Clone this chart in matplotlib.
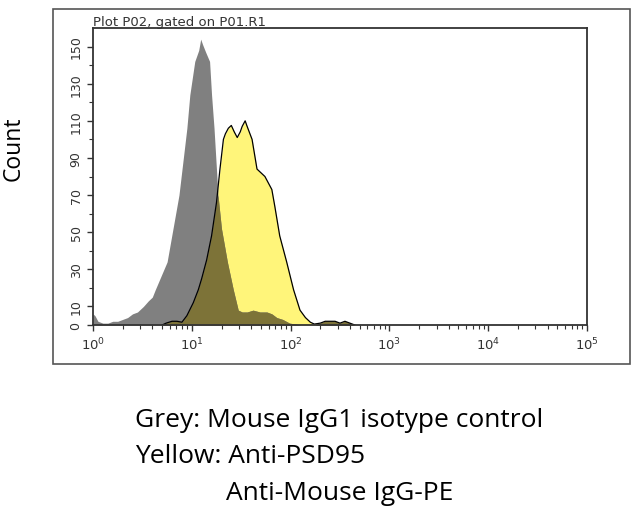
import matplotlib.pyplot as plt
import numpy as np
from matplotlib.patches import Rectangle
from matplotlib.ticker import FixedLocator, LogLocator, NullFormatter

# histogram outlines, x given as log10 of fluorescence intensity
grey_log = np.array([0.00, 0.02, 0.05, 0.10, 0.15, 0.20, 0.25, 0.30, 0.35, 0.40,
                     0.45, 0.51, 0.56, 0.60, 0.63, 0.67, 0.71, 0.75, 0.78, 0.81,
                     0.84, 0.87, 0.91, 0.95, 0.98, 1.03, 1.07, 1.09, 1.11, 1.14,
                     1.18, 1.20, 1.225, 1.245, 1.265, 1.30, 1.36, 1.42, 1.47, 1.51,
                     1.56, 1.62, 1.69, 1.76, 1.81, 1.86, 1.92, 1.99, 2.05, 2.10,
                     2.25, 2.30, 2.35, 2.40, 2.45, 2.50, 2.55, 2.60, 2.65])
grey_count = np.array([6, 5, 2, 1, 1, 2, 2, 3, 4, 6,
                       7, 10, 13, 15, 19, 24, 29, 34, 43, 52,
                       61, 70, 88, 106, 124, 142, 148, 154, 151, 147,
                       142, 124, 106, 88, 70, 52, 34, 19, 8, 7,
                       7, 8, 7, 7, 6, 4, 3, 1, 0.5, 0,
                       0, 1, 2, 2, 2, 1, 2, 1, 0])

yellow_log = np.array([0.70, 0.74, 0.80, 0.85, 0.90, 0.95, 1.015, 1.066, 1.10, 1.15,
                       1.20, 1.25, 1.285, 1.32, 1.34, 1.37, 1.40, 1.43, 1.46, 1.49,
                       1.51, 1.54, 1.56, 1.61, 1.66, 1.70, 1.74, 1.81, 1.84, 1.89,
                       1.96, 2.03, 2.095, 2.15, 2.20, 2.24, 2.30, 2.35, 2.40, 2.45,
                       2.50, 2.55, 2.60, 2.65])
yellow_count = np.array([0, 1, 2, 2, 1.5, 5, 12, 19, 25, 35,
                         48, 66, 84, 100, 103, 106, 107.5, 104, 101, 104,
                         107, 110, 107, 100, 84, 82, 80, 73, 64, 48,
                         34, 19, 8, 4, 1.5, 0.5, 1, 2, 2, 2,
                         1, 2, 1, 0])

y_labels = [0, 10, 30, 50, 70, 90, 110, 130, 150]

fig = plt.figure(figsize=(6.4, 5.1), dpi=100)
fig.patches.append(Rectangle((53 / 640, 1 - 365 / 510), 577 / 640, 355 / 510,
                             transform=fig.transFigure, fill=False,
                             edgecolor='#555555', linewidth=1.2))

ax = fig.add_axes([93 / 640, 1 - 326 / 510, 494 / 640, 297 / 510])

gx = 10 ** grey_log
yx = 10 ** yellow_log
ax.fill_between(yx, 0, yellow_count, color='#fff57a', linewidth=0)
ax.fill_between(gx, 0, grey_count, color='#808080', linewidth=0)
# where the two overlap the colours multiply -> olive
common = np.union1d(grey_log, yellow_log)
ov = np.minimum(np.interp(common, grey_log, grey_count, left=0, right=0),
                np.interp(common, yellow_log, yellow_count, left=0, right=0))
ax.fill_between(10 ** common, 0, ov, color='#7d7338', linewidth=0)
ax.plot(yx, yellow_count, color='black', linewidth=0.9)

ax.set_xscale('log')
ax.set_xlim(1, 1e5)
ax.set_ylim(0, 160)
ax.xaxis.set_major_locator(LogLocator(base=10, numticks=10))
ax.xaxis.set_minor_locator(LogLocator(base=10, subs=np.arange(2, 10), numticks=20))
ax.xaxis.set_minor_formatter(NullFormatter())
ax.yaxis.set_major_locator(FixedLocator(y_labels))
ax.yaxis.set_minor_locator(FixedLocator(np.arange(0, 160, 10)))
ax.tick_params(axis='both', which='major', direction='out', length=4, width=1,
               labelsize=9, colors='#333333')
ax.tick_params(axis='x', which='major', labelsize=9.5)
ax.tick_params(axis='both', which='minor', direction='out', length=3, width=0.8,
               colors='#333333')
for lab in ax.get_yticklabels():
    lab.set_rotation(90)
    lab.set_va('center')
for s in ax.spines.values():
    s.set_color('#333333')
    s.set_linewidth(1.3)

ax.set_title('Plot P02, gated on P01.R1', loc='left', fontsize=9.5,
             color='#333333', pad=1)

fig.text(14 / 640, 1 - 149 / 510, 'Count', rotation=90, ha='center',
         va='center', fontsize=16.5, family='Open Sans')
fig.text(135 / 640, 1 - 427 / 510, 'Grey: Mouse IgG1 isotype control',
         fontsize=19, family='Open Sans', va='baseline')
fig.text(135 / 640, 1 - 463 / 510, 'Yellow: Anti-PSD95',
         fontsize=19, family='Open Sans', va='baseline')
fig.text(226 / 640, 1 - 500 / 510, 'Anti-Mouse IgG-PE',
         fontsize=19, family='Open Sans', va='baseline')

fig.savefig('out.png', dpi=100)
